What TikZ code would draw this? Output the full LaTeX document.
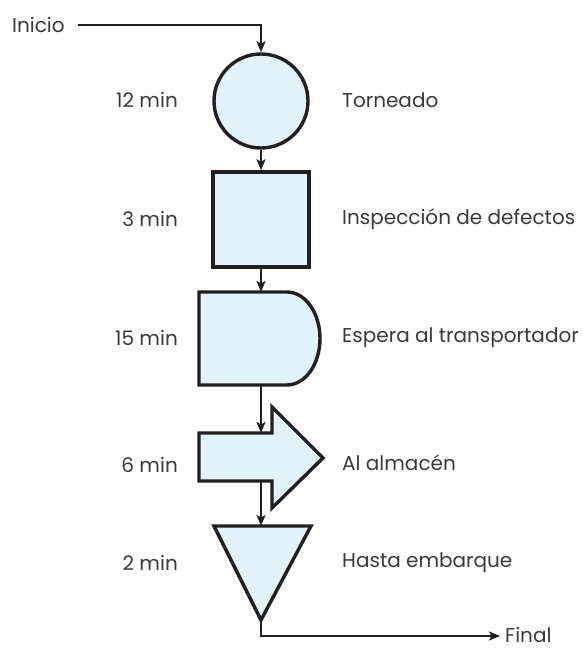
\documentclass[tikz,border=0pt]{standalone}
\usepackage{fontspec}
\setmainfont{Poppins}
\usetikzlibrary{arrows.meta}
\definecolor{shapefill}{HTML}{E1F2FA}
\definecolor{linecol}{HTML}{231F20}
\definecolor{txtcol}{HTML}{3A3A3A}
\begin{document}
\begin{tikzpicture}[x=1pt,y=-1pt,
  shp/.style={draw=linecol,fill=shapefill,line width=3.4pt,line join=miter},
  conn/.style={draw=linecol,line width=2.8pt,-{Stealth[length=11pt,width=9pt,inset=2.5pt]}},
  lbl/.style={font=\fontsize{20}{24}\selectfont,text=txtcol,inner sep=0pt},
  lleft/.style={lbl,anchor=east},
  lright/.style={lbl,anchor=west}]
\useasboundingbox (0,0) rectangle (582,648);
% shapes
\node[shp,circle,minimum size=94pt,inner sep=0pt] (torn) at (261,101) {};
\node[shp,rectangle,minimum width=96pt,minimum height=95pt,inner sep=0pt] (insp) at (261,219.5) {};
\draw[shp] (199,292) -- (287,292) arc[start angle=-90,end angle=90,x radius=33,y radius=46.5] -- (199,385) -- cycle;
\coordinate (esptop) at (261,292);
\coordinate (espbot) at (261,385);
\draw[shp] (199,433) -- (272,433) -- (272,407) -- (323,458) -- (272,508) -- (272,481) -- (199,481) -- cycle;
\coordinate (almtop) at (261,433);
\coordinate (almbot) at (261,481);
\draw[shp] (214,526) -- (311,526) -- (261,620) -- cycle;
\coordinate (hastop) at (261,526);
\coordinate (hasbot) at (261,620);
% texts
\node[lbl,anchor=west] (inicio) at (12,25) {Inicio};
\node[lbl,anchor=base west] (final) at (505,642) {Final};
\coordinate (inistart) at (78,25);
\coordinate (inicorner) at (261,25);
\coordinate (fincorner) at (261,636);
\coordinate (finend) at (500,636);
\node[lleft] (t1) at (178,100) {12 min};
\node[lleft] (t2) at (178,219) {3 min};
\node[lleft] (t3) at (178,338) {15 min};
\node[lleft] (t4) at (178,465) {6 min};
\node[lleft] (t5) at (178,563) {2 min};
\node[lright] (r1) at (342,100) {Torneado};
\node[lright] (r2) at (342,219) {Inspección de defectos};
\node[lright] (r3) at (342,338) {Espera al transportador};
\node[lright] (r4) at (342,463) {Al almacén};
\node[lright] (r5) at (342,563) {Hasta embarque};
% connectors
\draw[conn] (inistart) -- (inicorner) -- (torn.north);
\draw[conn] (torn.south) -- (insp.north);
\draw[conn] (insp.south) -- (esptop);
\draw[conn] (espbot) -- (almtop);
\draw[conn] (almbot) -- (hastop);
\draw[conn] (hasbot) -- (fincorner) -- (finend);
\end{tikzpicture}
\end{document}
